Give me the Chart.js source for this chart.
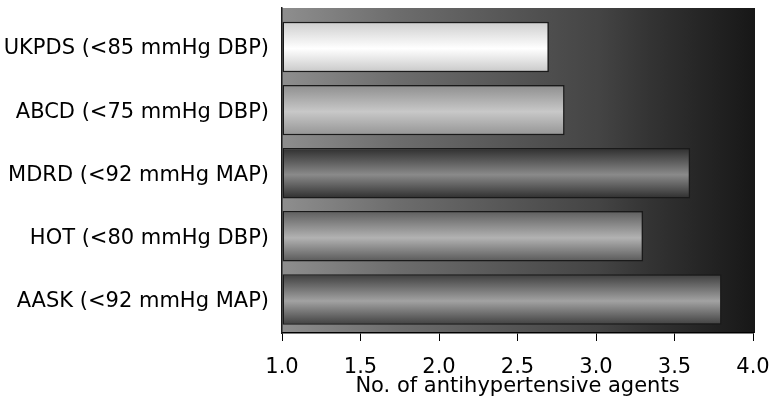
<!DOCTYPE html>
<html>
<head>
<meta charset="utf-8">
<script src="https://cdn.jsdelivr.net/npm/chart.js@4/dist/chart.umd.min.js"></script>
<style>
  html, body { margin: 0; padding: 0; background: #ffffff; }
  #wrap { width: 774px; height: 411px; }
</style>
</head>
<body>
<div id="wrap"><canvas id="chart" width="774" height="411"></canvas></div>
<script>
// Trials and their blood-pressure targets
const trials = [
  'UKPDS (<85 mmHg DBP)',
  'ABCD (<75 mmHg DBP)',
  'MDRD (<92 mmHg MAP)',
  'HOT (<80 mmHg DBP)',
  'AASK (<92 mmHg MAP)'
];
// Mean number of antihypertensive agents used per trial
const agents = [2.7, 2.8, 3.6, 3.3, 3.8];
// Value-axis tick labels
const xTicks = [1.0, 1.5, 2.0, 2.5, 3.0, 3.5, 4.0];

// Cylinder shading for each bar: top edge, highlight, bottom edge
const shadeTop = ['#cdcdcd', '#8e8e8e', '#2e2e2e', '#5e5e5e', '#3e3e3e'];
const shadeMid = ['#ffffff', '#c8c8c8', '#8a8a8a', '#b2b2b2', '#a2a2a2'];
const shadeBot = ['#c8c8c8', '#949494', '#2e2e2e', '#585858', '#404040'];

const BAR_FRACTION = 0.8;
const FONT = 'DejaVu Sans';

function barFill(ctx) {
  const chart = ctx.chart;
  const y = chart.scales.y;
  if (!chart.chartArea || !y) return shadeMid[ctx.dataIndex];
  const i = ctx.dataIndex;
  const c = y.getPixelForValue(i);
  const half = Math.abs(y.getPixelForValue(1) - y.getPixelForValue(0)) * BAR_FRACTION / 2;
  const g = chart.ctx.createLinearGradient(0, c - half, 0, c + half);
  g.addColorStop(0, shadeTop[i]);
  g.addColorStop(0.53, shadeMid[i]);
  g.addColorStop(1, shadeBot[i]);
  return g;
}

// Horizontal grey-to-black wash behind the bars
const plotBackground = {
  id: 'plotBackground',
  beforeDraw(chart) {
    const { ctx, chartArea: a } = chart;
    const g = ctx.createLinearGradient(a.left, 0, a.right + 2, 0);
    g.addColorStop(0, '#8e8e8e');
    g.addColorStop(0.25, '#6c6c6c');
    g.addColorStop(0.67, '#444444');
    g.addColorStop(0.78, '#333333');
    g.addColorStop(1, '#171717');
    ctx.save();
    ctx.fillStyle = g;
    ctx.fillRect(a.left, a.top, a.right - a.left + 2, a.bottom - a.top);
    ctx.restore();
  }
};

new Chart(document.getElementById('chart'), {
  type: 'bar',
  data: {
    datasets: [{
      data: agents.map((v, i) => ({ x: v, y: i })),
      base: 1,
      backgroundColor: barFill,
      borderColor: '#1a1a1a',
      borderWidth: 1.5,
      borderSkipped: false,
      categoryPercentage: 1,
      barPercentage: BAR_FRACTION
    }]
  },
  options: {
    indexAxis: 'y',
    responsive: false,
    animation: false,
    devicePixelRatio: 1,
    layout: { padding: { top: 8, right: 21, left: 0, bottom: 0 } },
    plugins: {
      legend: { display: false },
      tooltip: { enabled: false }
    },
    scales: {
      x: {
        type: 'linear',
        min: 1,
        max: 4,
        afterBuildTicks: (s) => { s.ticks = xTicks.map(v => ({ value: v })); },
        afterFit: (s) => { s.height = 78; s.paddingLeft = 0; s.paddingRight = 0; },
        grid: { display: true, drawOnChartArea: false, drawTicks: true, tickLength: 8, color: '#000000', lineWidth: 1 },
        border: { display: true, color: '#000000', width: 1.5 },
        ticks: {
          color: '#000000',
          padding: 14,
          maxRotation: 0,
          font: { family: FONT, size: 21 },
          callback: (v) => Number(v).toFixed(1)
        },
        title: {
          display: true,
          text: 'No. of antihypertensive agents',
          color: '#000000',
          font: { family: FONT, size: 21 },
          padding: { top: 0, bottom: 12 }
        }
      },
      y: {
        type: 'linear',
        reverse: true,
        offset: false,
        min: -0.618,
        max: 4.531,
        afterBuildTicks: (s) => { s.ticks = trials.map((t, i) => ({ value: i })); },
        afterFit: (s) => { s.width = 282; s.paddingTop = 0; s.paddingBottom = 0; },
        grid: { display: false, drawTicks: false, offset: false },
        border: { display: true, color: '#1a1a1a', width: 1.5 },
        ticks: {
          color: '#000000',
          padding: 13,
          labelOffset: 2,
          font: { family: FONT, size: 21 },
          callback: (v) => trials[v]
        }
      }
    }
  },
  plugins: [plotBackground]
});
</script>
</body>
</html>
